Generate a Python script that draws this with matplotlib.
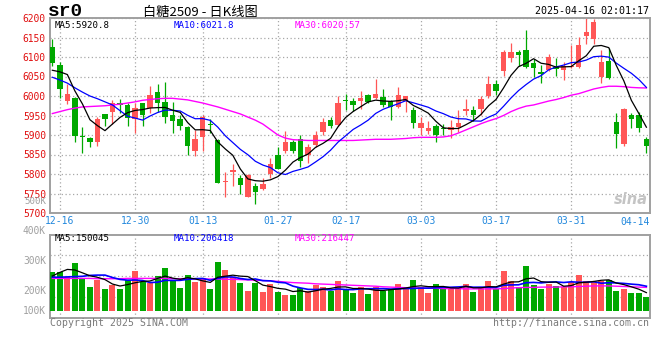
import matplotlib
matplotlib.use('Agg')
import matplotlib.pyplot as plt
import matplotlib.transforms as mtransforms
import numpy as np

plt.rcParams['font.family'] = ['DejaVu Sans Mono', 'Noto Sans CJK SC']

# 交易日
dates = ['12-13', '12-16', '12-17', '12-18', '12-19', '12-20', '12-23', '12-24', '12-25', '12-26',
         '12-27', '12-30', '12-31', '01-02', '01-03', '01-06', '01-07', '01-08', '01-09', '01-10',
         '01-13', '01-14', '01-15', '01-16', '01-17', '01-20', '01-21', '01-22', '01-23', '01-24',
         '01-27', '02-05', '02-06', '02-07', '02-10', '02-11', '02-12', '02-13', '02-14', '02-17',
         '02-18', '02-19', '02-20', '02-21', '02-24', '02-25', '02-26', '02-27', '02-28', '03-03',
         '03-04', '03-05', '03-06', '03-07', '03-10', '03-11', '03-12', '03-13', '03-14', '03-17',
         '03-18', '03-19', '03-20', '03-21', '03-24', '03-25', '03-26', '03-27', '03-28', '03-31',
         '04-01', '04-02', '04-03', '04-07', '04-08', '04-09', '04-10', '04-11', '04-14', '04-15']

opens = [6126, 6080, 5988, 5995, 5896, 5892, 5881, 5954, 5958, 5983,
         5977, 5941, 5982, 5969, 6011, 5984, 5952, 5941, 5920, 5860,
         5894, 5929, 5888, 5779, 5805, 5790, 5740, 5770, 5762, 5800,
         5849, 5858, 5883, 5889, 5849, 5875, 5907, 5939, 5926, 5989,
         5988, 5986, 6003, 5994, 5998, 5988, 5971, 5988, 5963, 5918,
         5911, 5924, 5918, 5913, 5920, 5962, 5965, 5966, 5999, 6031,
         6065, 6097, 6114, 6118, 6084, 6061, 6067, 6075, 6067, 6074,
         6075, 6155, 6146, 6050, 6090, 5933, 5878, 5952, 5952, 5890]
highs = [6146, 6086, 6030, 5997, 5920, 5895, 5946, 5955, 5990, 5993,
         5983, 5981, 5983, 6026, 6030, 6037, 5984, 5952, 5922, 5913,
         5952, 5941, 5890, 5805, 5825, 5798, 5800, 5777, 5791, 5841,
         5870, 5909, 5888, 5899, 5877, 5909, 5943, 5947, 5999, 6005,
         5994, 6013, 6004, 6044, 6018, 5989, 6022, 6000, 5971, 5947,
         5936, 5928, 5928, 5939, 5965, 5993, 5975, 6000, 6052, 6041,
         6118, 6135, 6118, 6168, 6095, 6080, 6108, 6097, 6088, 6131,
         6151, 6199, 6197, 6118, 6122, 5956, 5969, 5956, 5959, 5896]
lows = [6077, 5994, 5979, 5883, 5855, 5869, 5873, 5922, 5928, 5956,
        5922, 5906, 5922, 5956, 5960, 5930, 5905, 5913, 5849, 5845,
        5858, 5905, 5778, 5740, 5770, 5749, 5740, 5722, 5758, 5790,
        5813, 5853, 5855, 5819, 5828, 5868, 5900, 5918, 5922, 5963,
        5962, 5967, 5982, 5993, 5973, 5939, 5969, 5959, 5918, 5901,
        5903, 5883, 5899, 5892, 5907, 5952, 5935, 5952, 5996, 6003,
        6052, 6088, 6078, 6071, 6049, 6033, 6064, 6052, 6041, 6071,
        6073, 6133, 6133, 6033, 6044, 5866, 5873, 5918, 5907, 5855]
closes = [6085, 6017, 6005, 5898, 5894, 5882, 5941, 5941, 5983, 5978,
          5943, 5970, 5952, 6003, 5983, 5945, 5935, 5924, 5872, 5890,
          5947, 5925, 5778, 5781, 5809, 5771, 5798, 5755, 5775, 5826,
          5813, 5881, 5858, 5834, 5869, 5899, 5933, 5922, 5983, 5987,
          5976, 5994, 5984, 6006, 5976, 5971, 6003, 5999, 5930, 5930,
          5918, 5899, 5915, 5920, 5932, 5966, 5952, 5993, 6031, 6013,
          6114, 6114, 6104, 6074, 6072, 6056, 6099, 6069, 6078, 6075,
          6131, 6163, 6191, 6088, 6047, 5902, 5966, 5942, 5918, 5872]

# 成交量 (千手)
vol_k = [262, 262, 246, 293, 240, 213, 237, 207, 219, 207,
         237, 267, 230, 226, 250, 276, 233, 210, 253, 230,
         243, 207, 297, 270, 247, 227, 200, 227, 197, 223,
         197, 187, 187, 210, 200, 220, 213, 200, 233, 203,
         193, 213, 190, 213, 200, 207, 223, 207, 237, 213,
         193, 223, 210, 213, 210, 223, 197, 210, 233, 207,
         267, 233, 213, 283, 220, 207, 223, 217, 213, 230,
         253, 233, 230, 233, 237, 200, 207, 193, 193, 180]

# 图上可见的均线起始段(更早的数据不在图内)
ma5_head = [6066, 6062, 6055, 6013]
ma10_head = [6048, 6041, 6033, 6021, 6010, 6000, 5993, 5985, 5977]
ma30 = [5955, 5960, 5965, 5969, 5972, 5973, 5974, 5975, 5977, 5979,
        5982, 5985, 5989, 5991, 5993, 5994, 5994, 5992, 5990, 5986,
        5982, 5977, 5972, 5966, 5960, 5954, 5946, 5938, 5928, 5914,
        5900, 5892, 5888, 5887, 5886, 5886, 5886, 5886, 5886, 5886,
        5886, 5887, 5888, 5889, 5889, 5889, 5890, 5891, 5893, 5894,
        5894, 5894, 5895, 5898, 5905, 5913, 5921, 5929, 5936, 5942,
        5950, 5960, 5968, 5974, 5977, 5982, 5987, 5991, 5996, 6002,
        6006, 6012, 6018, 6022, 6025, 6025, 6024, 6022, 6021, 6020.57]
vol_ma5_head_k = [250, 262, 272, 270]
vol_ma10_head_k = [246, 246, 247, 248, 249, 252, 253, 253, 245]
vol_ma30_k = [242, 242, 242, 242, 242, 242, 241, 241, 241, 241,
              242, 242, 242, 242, 242, 242, 241, 241, 240, 240,
              240, 240, 240, 239, 239, 238, 237, 236, 235, 234,
              232, 230, 228, 227, 226, 224, 223, 222, 221, 220,
              219, 218, 217, 216, 214, 213, 212, 211, 210, 210,
              209, 209, 208, 208, 208, 207, 207, 207, 207, 207,
              208, 210, 211, 212, 212, 213, 213, 213, 214, 214,
              215, 216, 217, 217, 217, 216, 215, 214, 213, 212]

tick_dates = ['12-16', '12-30', '01-13', '01-27', '02-17', '03-03', '03-17', '03-31']
last_date_label = '04-14'
price_ticks = list(range(5700, 6201, 50))
vol_tick_k = [100, 200, 300, 400, 500]
title = '白糖2509 - 日K线图'
code = 'sr0'
stamp = '2025-04-16 02:01:17'
price_legend = ['MA5:5920.8', 'MA10:6021.8', 'MA30:6020.57']
vol_legend = ['MA5:150045', 'MA10:206418', 'MA30:216447']

RED = '#FF5656'
GREEN = '#00A800'
LEG_COLORS = ['black', '#0000FF', '#FF00FF']
GRID = dict(color='#A8A8A8', ls=(0, (1, 2)), lw=0.9)
SPINE = '#A0A0A0'
W, H = 660, 360


def moving_avg(vals, n, head):
    out = list(head)
    for i in range(len(head), len(vals)):
        out.append(np.mean(vals[i - n + 1:i + 1]))
    return np.array(out)


def fx(px):
    return px / W


def fy(py):
    return 1 - py / H


x = np.arange(len(dates))
o = np.array(opens, float)
h = np.array(highs, float)
l = np.array(lows, float)
c = np.array(closes, float)
vol = np.array(vol_k, float) * 1000
colors = np.where(c >= o, RED, GREEN)

ma5 = moving_avg(c, 5, ma5_head)
ma10 = moving_avg(c, 10, ma10_head)
vma5 = moving_avg(vol, 5, np.array(vol_ma5_head_k) * 1000)
vma10 = moving_avg(vol, 10, np.array(vol_ma10_head_k) * 1000)
vma30 = np.array(vol_ma30_k, float) * 1000

fig = plt.figure(figsize=(6.6, 3.6), dpi=100)
fig.patch.set_facecolor('white')
ax = fig.add_axes([fx(50), fy(213), fx(600), 195 / H])
axv = fig.add_axes([fx(50), fy(318), fx(600), 83 / H])
xlim = (-0.31, 79.48)

# K线
ax.vlines(x, l, h, colors=colors, lw=0.9, zorder=2)
body_low = np.minimum(o, c)
body_h = np.maximum(np.abs(c - o), 2.6)
ax.bar(x, body_h, bottom=body_low, width=0.72, color=colors, lw=0, zorder=3)
ax.plot(x, ma30, color='#FF00FF', lw=1, zorder=4)
ax.plot(x, ma10, color='#0000FF', lw=0.9, zorder=4)
ax.plot(x, ma5, color='black', lw=0.9, zorder=5)

ax.set_xlim(*xlim)
ax.set_ylim(5700, 6200)
ax.set_yticks(price_ticks)
ax.set_yticklabels([str(v) for v in price_ticks], color='#E01010', fontsize=6.9)
ax.set_xticks([dates.index(d) for d in tick_dates])
ax.set_xticklabels(tick_dates, color='#2288DD', fontsize=7)
ax.tick_params(length=0, pad=2.5)
ax.tick_params(axis='y', pad=3)
ax.grid(True, **GRID)
ax.set_axisbelow(True)
ax.text(1.0, -0.045, last_date_label, transform=ax.transAxes, ha='right', va='center',
        color='#2288DD', fontsize=7)

# 成交量
VOL_BASE = 133.3e3
axv.bar(x, vol - VOL_BASE, bottom=VOL_BASE, width=0.8, color=colors, lw=0, zorder=3)
axv.plot(x, vma30, color='#FF00FF', lw=1, zorder=4)
axv.plot(x, vma10, color='#0000FF', lw=1.2, zorder=4)
axv.plot(x, vma5, color='black', lw=0.9, zorder=5)
axv.set_xlim(*xlim)
axv.set_ylim(110e3, 386.7e3)
axv.set_xticks([dates.index(d) for d in tick_dates])
axv.set_xticklabels([])
axv.set_yticks([])
axv.tick_params(length=0)
axv.grid(True, axis='x', **GRID)
axv.set_axisbelow(True)
for f in (0.253, 0.506, 0.759):
    axv.plot([0, 1], [f, f], transform=axv.transAxes, zorder=1, **GRID)
trans = mtransforms.blended_transform_factory(axv.transAxes, axv.transData)
for v in vol_tick_k:
    axv.text(-0.0067, max(v * 1000, VOL_BASE), f'{v}K', transform=trans, ha='right',
             va='center', color='#A0A0A0', fontsize=6.6 if v == 500 else 6.9,
             clip_on=False)

for a in (ax, axv):
    for s in a.spines.values():
        s.set_color(SPINE)
        s.set_linewidth(1.4)

# 文字
fig.text(fx(48), fy(16.5), code, fontsize=14, fontweight='bold', family='Liberation Mono',
         va='baseline')
fig.text(fx(200), fy(12), title, ha='center', va='center', fontsize=9.5,
         family=['Noto Sans CJK SC', 'DejaVu Sans'])
fig.text(fx(649), fy(11.5), stamp, ha='right', va='center', fontsize=7.2)
for lab, col, px in zip(price_legend, LEG_COLORS, (55, 174, 295)):
    fig.text(fx(px), fy(25), lab, color=col, fontsize=6.6, va='center')
for lab, col, px in zip(vol_legend, LEG_COLORS, (55, 174, 295)):
    fig.text(fx(px), fy(238.5), lab, color=col, fontsize=6.6, va='center')
fig.text(fx(50), fy(323), 'Copyright 2025 SINA.COM', color='#7A7A7A', fontsize=7.1, va='center')
fig.text(fx(649), fy(323), 'http://finance.sina.com.cn', color='#7A7A7A', fontsize=7.1,
         ha='right', va='center')
fig.text(fx(648), fy(200), 'sina', color='#C4C4C4', fontsize=10.5, fontweight='bold',
         style='italic', ha='right', va='center', family='DejaVu Sans')

fig.savefig('out.png', dpi=100)
